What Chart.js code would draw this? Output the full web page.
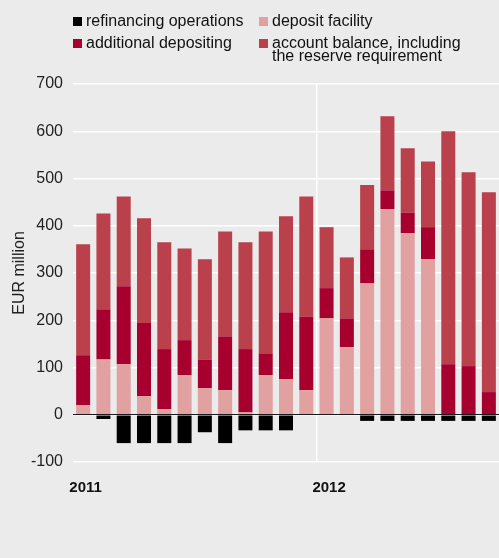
<!DOCTYPE html>
<html>
<head>
<meta charset="utf-8">
<script src="https://cdn.jsdelivr.net/npm/chart.js@4"></script>
<style>
  html, body { margin: 0; padding: 0; background: #ebebeb; }
  #wrap { position: relative; width: 499px; height: 558px; }
  #legend {
    position: absolute; left: 73px; top: 14px;
    display: grid; grid-template-columns: 186px auto; row-gap: 9px;
    font-family: "Liberation Sans", Arial, sans-serif; font-size: 16px; line-height: 13px; color: #111;
  }
  .item { display: flex; align-items: flex-start; }
  .box { width: 9px; height: 9px; margin-top: 3px; margin-right: 4px; flex: none; }
</style>
</head>
<body>
<div id="wrap">
  <canvas id="chart" width="499" height="558"></canvas>
  <div id="legend"></div>
</div>
<script>
const months = ['Jan 2011','Feb 2011','Mar 2011','Apr 2011','May 2011','Jun 2011','Jul 2011','Aug 2011','Sep 2011','Oct 2011','Nov 2011','Dec 2011',
                'Jan 2012','Feb 2012','Mar 2012','Apr 2012','May 2012','Jun 2012','Jul 2012','Aug 2012','Sep 2012'];
const years = ['2011', '2012'];
const yearStart = [0, 12];

const depositFacility = [20, 117, 107, 39, 12, 84, 56, 52, 5, 84, 75, 52, 204, 143, 278, 435, 384, 329, 0, 0, 0];
const additionalDepositing = [106, 106, 165, 155, 127, 74, 61, 114, 134, 46, 142, 156, 64, 61, 72, 40, 44, 68, 107, 103, 48];
const accountBalance = [235, 203, 190, 222, 226, 194, 212, 222, 226, 258, 203, 254, 129, 129, 136, 157, 136, 139, 493, 410, 423];
const refinancing = [0, -9, -60, -60, -60, -60, -37, -60, -33, -33, -33, 0, 0, 0, -13, -13, -13, -13, -13, -13, -13];

const legendOrder = [3, 0, 1, 2];
const font = '"Liberation Sans", Arial, sans-serif';

const chart = new Chart(document.getElementById('chart'), {
    type: 'bar',
    data: {
        labels: months,
        datasets: [
            { label: 'deposit facility', data: depositFacility, backgroundColor: '#e0a1a0' },
            { label: 'additional depositing', data: additionalDepositing, backgroundColor: '#a8002e' },
            { label: 'account balance, including\nthe reserve requirement', data: accountBalance, backgroundColor: '#ba414b' },
            { label: 'refinancing operations', data: refinancing, backgroundColor: '#000000' }
        ]
    },
    options: {
        responsive: false,
        animation: false,
        layout: { padding: { top: 84, left: 0, right: 0, bottom: 0 } },
        datasets: { bar: { barPercentage: 0.69, categoryPercentage: 1, borderWidth: 0 } },
        plugins: { legend: { display: false }, tooltip: { enabled: false } },
        scales: {
            x: { stacked: true, display: false },
            // year axis: same months, label only where a year starts, white line at the year boundary
            yr: {
                type: 'category', labels: months, position: 'bottom', offset: true,
                afterFit: s => { s.height = 96; s.paddingLeft = 0; s.paddingRight = 0; },
                border: { display: false },
                grid: {
                    offset: true, drawTicks: false, lineWidth: 1.5,
                    color: c => (c.index === yearStart[1]) ? '#ffffff' : 'rgba(0,0,0,0)'
                },
                ticks: {
                    autoSkip: false, padding: 17, labelOffset: 2.5, color: '#111', maxRotation: 0,
                    font: { family: font, size: 15, weight: 'bold' },
                    callback: (v, i) => yearStart.includes(i) ? years[yearStart.indexOf(i)] : ''
                }
            },
            y: {
                stacked: true, min: -100, max: 700,
                afterFit: s => { s.width = 73; },
                border: { display: false },
                grid: { color: '#ffffff', lineWidth: 1.5, drawTicks: false },
                ticks: { stepSize: 100, padding: 10, color: '#222', font: { family: font, size: 16 } },
                title: { display: true, text: 'EUR million', color: '#222', padding: { top: 10, bottom: 0 }, font: { family: font, size: 16 } }
            },
            zero: {
                type: 'linear', position: 'left', min: -100, max: 700, z: 1,
                afterFit: s => { s.width = 0; },
                border: { display: false },
                grid: { drawTicks: false, lineWidth: 1, color: c => (c.tick && c.tick.value === 0) ? '#1a1a1a' : 'rgba(0,0,0,0)' },
                ticks: { display: false, stepSize: 100 }
            }
        }
    }
});

// html legend, two columns like the original
const legendEl = document.getElementById('legend');
legendOrder.forEach(i => {
    const ds = chart.data.datasets[i];
    const item = document.createElement('div');
    item.className = 'item';
    item.innerHTML = `<span class="box" style="background:${ds.backgroundColor}"></span><span>${ds.label.replace('\n', '<br>')}</span>`;
    legendEl.appendChild(item);
});
</script>
</body>
</html>
